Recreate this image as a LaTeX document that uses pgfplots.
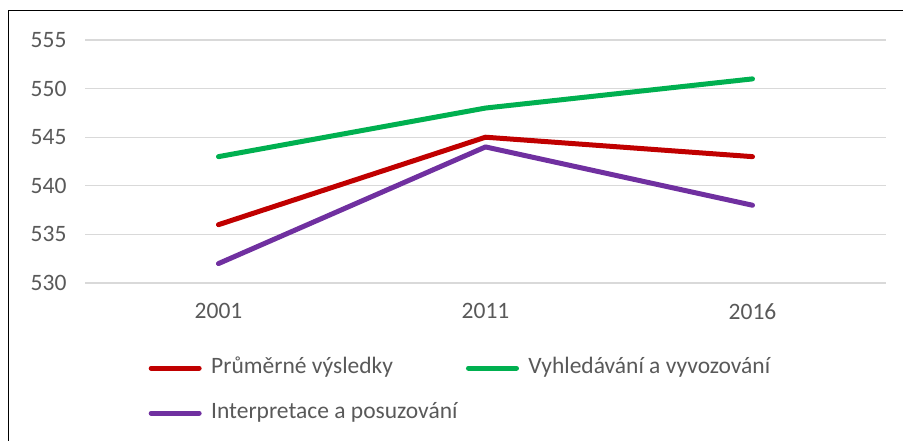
\documentclass[border=0pt]{standalone}
\usepackage{pgfplots}
\pgfplotsset{compat=1.18}
\usepackage{fontspec}
\setmainfont{Carlito}
\definecolor{cred}{HTML}{C00000}
\definecolor{cgreen}{HTML}{00B050}
\definecolor{cpurple}{HTML}{7030A0}
\definecolor{gridgray}{HTML}{D9D9D9}
\definecolor{textgray}{HTML}{595959}
\begin{document}
\begin{tikzpicture}
\path[use as bounding box] (0,0) rectangle (903bp,-441bp);
\draw[black, line width=1.5bp] (8.5bp,-441bp) -- (8.5bp,-10.5bp) -- (903bp,-10.5bp);
\begin{axis}[
  at={(85bp,-283bp)}, anchor=south west,
  scale only axis, width=801bp, height=243bp,
  xmin=-0.5, xmax=2.5, ymin=530, ymax=555,
  ytick={530,535,540,545,550,555},
  xtick={0,1,2}, xticklabels={2001,2011,2016},
  axis line style={draw=none},
  major tick length=0pt,
  ymajorgrids, grid style={color=gridgray, line width=1.3bp},
  tick label style={font=\fontsize{23.5bp}{28bp}\selectfont, text=textgray},
  yticklabel style={xshift=-15bp},
  xticklabel style={yshift=-17bp},
  /pgf/number format/assume math mode=true,
  /pgf/number format/1000 sep={},
  clip=false,
  legend columns=2,
  legend style={
    at={(0.0724,-0.298)}, anchor=north west, draw=none, fill=none,
    font=\fontsize{23.5bp}{28bp}\selectfont, text=textgray,
    nodes={inner sep=0pt, text height=16bp, text depth=5bp},
    row sep=24bp,
    /tikz/every odd column/.style={column sep=7bp},
    /tikz/every even column/.style={column sep=6bp},
  },
  legend cell align=left,
  legend image code/.code={\draw[#1, line cap=round] (2.5bp,0bp) -- (50.5bp,0bp); \path (0bp,0bp) (53bp,0bp);},
  every axis plot/.append style={line width=5bp, line cap=round, line join=round},
]
\addplot[cred] coordinates {(0,536) (1,545) (2,543)};
\addlegendentry{Průměrné výsledky}
\addplot[cgreen] coordinates {(0,543) (1,548) (2,551)};
\addlegendentry{Vyhledávání a vyvozování}
\addplot[cpurple] coordinates {(0,532) (1,544) (2,538)};
\addlegendentry{Interpretace a posuzování}
\end{axis}
\end{tikzpicture}
\end{document}
